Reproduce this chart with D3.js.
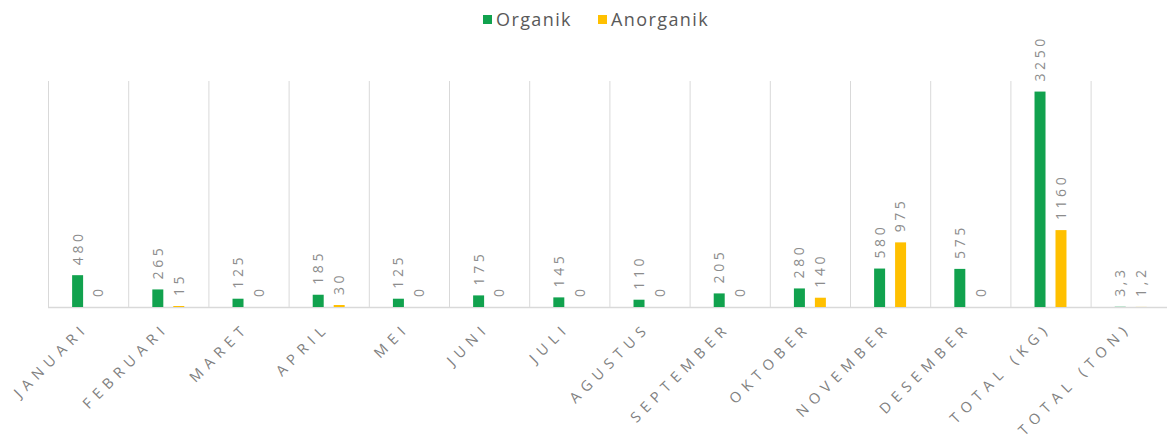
<!DOCTYPE html>
<html>
<head>
<meta charset="utf-8">
<script src="https://cdn.jsdelivr.net/npm/d3@7/dist/d3.min.js"></script>
<style>
  html, body { margin: 0; padding: 0; background: #ffffff; }
  svg { display: block; }
</style>
</head>
<body>
<svg id="chart" width="1167" height="446"></svg>
<script>
const categories = ["JANUARI","FEBRUARI","MARET","APRIL","MEI","JUNI","JULI","AGUSTUS","SEPTEMBER","OKTOBER","NOVEMBER","DESEMBER","TOTAL (KG)","TOTAL (TON)"];
const seriesNames = ["Organik","Anorganik"];
const organik   = [480, 265, 125, 185, 125, 175, 145, 110, 205, 280, 580, 575, 3250, 3.3];
const anorganik = [0, 15, 0, 30, 0, 0, 0, 0, 0, 140, 975, 0, 1160, 1.2];
const colors = ["#11a24e", "#ffc000"];

const svg = d3.select("#chart");
const W = 1167, H = 446;
const left = 48, step = 80.2;
const baseY = 307, topY = 75;

const x = d3.scaleBand().domain(categories).range([left, left + step * categories.length]).padding(0);
const xs = d3.scaleBand().domain(seriesNames).range([0, x.bandwidth()]).paddingInner(0.476).paddingOuter(1.15);
const y = d3.scaleLinear().domain([0, 3500]).range([baseY, topY]);

const locale = d3.formatLocale({decimal: ",", thousands: ".", grouping: [3], currency: ["Rp", ""]});
const fmt = v => Number.isInteger(v) ? String(v) : locale.format(".1f")(v);

const data = categories.map((c, i) => ({cat: c, vals: [organik[i], anorganik[i]]}));

// vertical category gridlines
const bounds = categories.map(c => x(c));
svg.append("g").selectAll("line").data(bounds).join("line")
  .attr("x1", d => d + 0.5).attr("x2", d => d + 0.5)
  .attr("y1", 81).attr("y2", baseY)
  .attr("stroke", "#d9d9d9").attr("stroke-width", 1);

// baseline
svg.append("line")
  .attr("x1", left).attr("x2", W).attr("y1", baseY + 0.5).attr("y2", baseY + 0.5)
  .attr("stroke", "#d9d9d9").attr("stroke-width", 1.5);

// bars
const groups = svg.append("g").selectAll("g").data(data).join("g")
  .attr("transform", d => `translate(${x(d.cat)},0)`);

groups.selectAll("rect").data(d => d.vals.map((v, k) => ({v, k}))).join("rect")
  .attr("x", d => xs(seriesNames[d.k]))
  .attr("width", xs.bandwidth())
  .attr("y", d => y(d.v))
  .attr("height", d => baseY - y(d.v))
  .attr("fill", d => colors[d.k]);

// value labels
groups.selectAll("text").data(d => d.vals.map((v, k) => ({v, k}))).join("text")
  .attr("transform", d => `translate(${xs(seriesNames[d.k]) + xs.bandwidth() / 2},${y(d.v) - 10}) rotate(-90)`)
  .attr("dy", "0.35em")
  .attr("text-anchor", "start")
  .style("font-family", "'Open Sans', sans-serif")
  .style("font-size", "14px")
  .style("letter-spacing", "3.6px")
  .attr("fill", "#8c8c8c")
  .text(d => fmt(d.v));

// x-axis labels
svg.append("g").selectAll("text").data(categories).join("text")
  .attr("transform", c => `translate(${x(c) + x.bandwidth() / 2 - 2},${baseY + 18}) rotate(-45)`)
  .attr("dy", "0.35em")
  .attr("text-anchor", "end")
  .style("font-family", "'Open Sans', sans-serif")
  .style("font-size", "14.5px")
  .style("letter-spacing", "6px")
  .attr("fill", "#808080")
  .text(c => c);

// legend
const legendItems = [{name: seriesNames[0], x: 483, tx: 496}, {name: seriesNames[1], x: 598, tx: 611}];
const lg = svg.append("g");
legendItems.forEach((it, k) => {
  lg.append("rect").attr("x", it.x).attr("y", 15).attr("width", 9).attr("height", 9).attr("fill", colors[k]);
  lg.append("text").attr("x", it.tx).attr("y", 20).attr("dy", "0.35em")
    .style("font-family", "'Open Sans', sans-serif")
    .style("font-size", "18px")
    .style("letter-spacing", "1.4px")
    .attr("fill", "#595959")
    .text(it.name);
});
</script>
</body>
</html>
